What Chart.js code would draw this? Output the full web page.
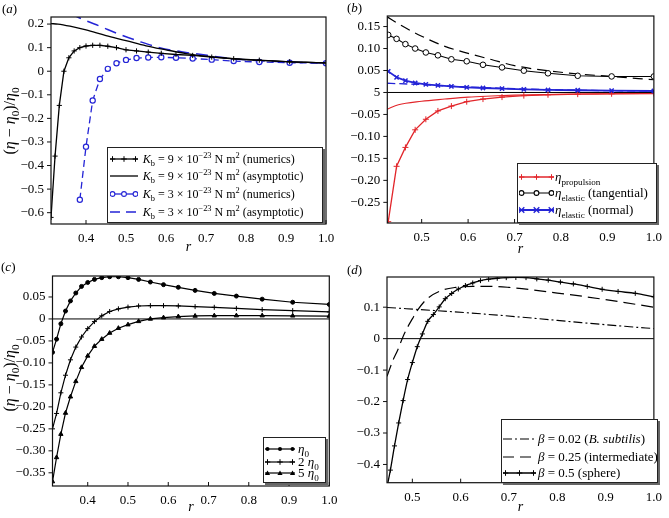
<!DOCTYPE html>
<html>
<head>
<meta charset="utf-8">
<script src="https://cdn.jsdelivr.net/npm/chart.js@4.4.0/dist/chart.umd.min.js"></script>
<style>
  body { margin: 0; background: #fff; }
  #wrap { position: relative; width: 669px; height: 518px; overflow: hidden; font-family: "Liberation Serif", "DejaVu Serif", serif; color: #000; }
  canvas { position: absolute; left: 0; top: 0; }
  .abs { position: absolute; white-space: nowrap; }
  .plabel { font-size: 13px; line-height: 14px; }
  .ytitle { font-size: 16px; line-height: 18px; transform: translate(-50%, -50%) rotate(-90deg); }
  .lbox { position: absolute; box-sizing: border-box; border: 1px solid #222; box-shadow: 2px 2px 0 #666; background: #fff; }
  .ltext { font-size: 13px; line-height: 16px; }
  .small { font-size: 12px; }
  sub, sup { font-size: 70%; line-height: 0; }
</style>
</head>
<body>
<div id="wrap">
  <canvas id="ca" width="669" height="518"></canvas>
  <canvas id="cb" width="669" height="518"></canvas>
  <canvas id="cc" width="669" height="518"></canvas>
  <canvas id="cd" width="669" height="518"></canvas>
</div>
<script>
// ---- data ----
// r values of the numerical runs (1/r = 3.2 ... 1.0)
const rGrid = [0.3125, 0.3226, 0.3333, 0.3448, 0.3571, 0.3704, 0.3846, 0.4, 0.4167, 0.4348, 0.4545, 0.4762,
  0.5, 0.5263, 0.5556, 0.5882, 0.625, 0.6667, 0.7143, 0.7692, 0.8333, 0.9091, 1.0];

// (a)
const kb9Num = [-0.62, -0.36, -0.145, 0.0, 0.057, 0.086, 0.1, 0.107, 0.11, 0.11, 0.106, 0.1,
  0.091, 0.086, 0.081, 0.076, 0.071, 0.067, 0.06, 0.053, 0.047, 0.04, 0.035];
const rAsym9 = [0.3125, 0.33, 0.36, 0.40, 0.45, 0.50, 0.55, 0.60, 0.65, 0.70, 0.75, 0.80, 0.85, 0.90, 0.95, 1.0];
const kb9Asym = [0.202, 0.2, 0.191, 0.175, 0.151, 0.13, 0.108, 0.091, 0.075, 0.064, 0.056, 0.049, 0.045, 0.041, 0.038, 0.035];
const rKb3 = [0.3846, 0.4, 0.4167, 0.4348, 0.4545, 0.4762, 0.5, 0.5263, 0.5556, 0.5882, 0.625, 0.6667,
  0.7143, 0.7692, 0.8333, 0.9091, 1.0];
const kb3Num = [-0.545, -0.32, -0.124, -0.033, 0.01, 0.034, 0.048, 0.056, 0.058, 0.059, 0.057, 0.054,
  0.049, 0.043, 0.039, 0.036, 0.034];
const rAsym3 = [0.36, 0.383, 0.40, 0.433, 0.483, 0.534, 0.584, 0.642, 0.709, 0.776, 0.851, 0.92, 1.0];
const kb3Asym = [0.245, 0.227, 0.214, 0.192, 0.157, 0.126, 0.1, 0.082, 0.066, 0.052, 0.043, 0.038, 0.035];

// (b)
const rB = [0.428, 0.446, 0.465, 0.486, 0.509, 0.535, 0.564, 0.597, 0.632, 0.673, 0.72, 0.772, 0.836, 0.909, 1.0];
const propNum = [-0.294, -0.168, -0.125, -0.085, -0.061, -0.042, -0.031, -0.021, -0.015, -0.0105, -0.0072,
  -0.0052, -0.0038, -0.003, -0.0024];
const tangNum = [0.131, 0.122, 0.11, 0.1, 0.091, 0.0845, 0.0755, 0.071, 0.063, 0.057, 0.0496, 0.0436, 0.038, 0.0365, 0.0365];
const normNum = [0.048, 0.0345, 0.027, 0.0216, 0.0186, 0.0163, 0.014, 0.0118, 0.0102, 0.0087, 0.0072, 0.0057,
  0.005, 0.004, 0.0034];
const rAsymB = [0.426, 0.45, 0.5, 0.55, 0.6, 0.65, 0.7, 0.8, 0.9, 1.0];
const propAsym = [-0.038, -0.028, -0.02, -0.015, -0.0105, -0.008, -0.006, -0.004, -0.003, -0.0022];
const tangAsym = [0.172, 0.156, 0.128, 0.105, 0.089, 0.075, 0.061, 0.046, 0.037, 0.029];
const normAsym = [0.021, 0.02, 0.018, 0.015, 0.0125, 0.0105, 0.0085, 0.0058, 0.0042, 0.0034];

// (c)
const eta1 = [-0.076, -0.046, -0.011, 0.018, 0.041, 0.059, 0.074, 0.083, 0.09, 0.094, 0.096, 0.096,
  0.094, 0.09, 0.084, 0.078, 0.072, 0.065, 0.058, 0.052, 0.045, 0.038, 0.033];
const eta2 = [-0.25, -0.215, -0.168, -0.128, -0.093, -0.064, -0.041, -0.022, -0.006, 0.007, 0.017, 0.023,
  0.027, 0.0295, 0.0303, 0.0303, 0.0296, 0.028, 0.0265, 0.024, 0.0212, 0.019, 0.016];
const eta5 = [-0.37, -0.315, -0.262, -0.214, -0.177, -0.142, -0.11, -0.084, -0.062, -0.046, -0.032, -0.021,
  -0.013, -0.0055, 0.0, 0.003, 0.0055, 0.0068, 0.0075, 0.0076, 0.0076, 0.0072, 0.0065];

// (d)
const rSphere = [0.4464, 0.4545, 0.463, 0.4717, 0.4808, 0.4902, 0.5, 0.5102, 0.5208, 0.5319, 0.5435, 0.5556,
  0.5682, 0.5814, 0.5952, 0.6098, 0.625, 0.641, 0.6579, 0.6757, 0.6944, 0.7143, 0.7353, 0.7576, 0.7813,
  0.8065, 0.8333, 0.8621, 0.8929, 0.9259, 0.9615, 1.0];
const beta05 = [-0.48, -0.418, -0.341, -0.268, -0.197, -0.13, -0.076, -0.0255, 0.015, 0.055, 0.0766, 0.101,
  0.127, 0.1436, 0.1578, 0.169, 0.177, 0.1845, 0.189, 0.192, 0.194, 0.1945, 0.194, 0.19, 0.186,
  0.18, 0.174, 0.166, 0.157, 0.15, 0.144, 0.133];
const rMid = [0.4475, 0.46, 0.47, 0.48, 0.49, 0.5, 0.51, 0.53, 0.56, 0.59, 0.625, 0.665, 0.7, 0.75, 0.8, 0.86, 0.93, 1.0];
const beta025 = [-0.12, -0.068, -0.035, 0.004, 0.036, 0.063, 0.089, 0.126, 0.153, 0.163, 0.166, 0.166, 0.163,
  0.155, 0.145, 0.133, 0.117, 0.1];
const rLow = [0.4475, 0.55, 0.65, 0.75, 0.85, 0.95, 1.0];
const beta002 = [0.099, 0.089, 0.078, 0.065, 0.051, 0.038, 0.032];

// ticks
const xTicksA = [0.4, 0.5, 0.6, 0.7, 0.8, 0.9, 1.0];
const xLabelsA = ['0.4', '0.5', '0.6', '0.7', '0.8', '0.9', '1.0'];
const xTicksB = [0.5, 0.6, 0.7, 0.8, 0.9, 1.0];
const xLabelsB = ['0.5', '0.6', '0.7', '0.8', '0.9', '1.0'];
const yTicksA = [-0.6, -0.5, -0.4, -0.3, -0.2, -0.1, 0, 0.1, 0.2];
const yLabelsA = ['\u22120.6', '\u22120.5', '\u22120.4', '\u22120.3', '\u22120.2', '\u22120.1', '0', '0.1', '0.2'];
const yTicksB = [-0.25, -0.2, -0.15, -0.1, -0.05, 0, 0.05, 0.1, 0.15];
const yLabelsB = ['\u22120.25', '\u22120.20', '\u22120.15', '\u22120.10', '\u22120.05', '5', '0.05', '0.10', '0.15'];
const yTicksC = [-0.35, -0.3, -0.25, -0.2, -0.15, -0.1, -0.05, 0, 0.05];
const yLabelsC = ['\u22120.35', '\u22120.30', '\u22120.25', '\u22120.20', '\u22120.15', '\u22120.10', '\u22120.05', '0', '0.05'];
const yTicksD = [-0.4, -0.3, -0.2, -0.1, 0, 0.1];
const yLabelsD = ['\u22120.4', '\u22120.3', '\u22120.2', '\u22120.1', '0', '0.1'];

// ---- drawing ----
const BLUE = '#2424d6';
const RED = '#e2262b';
const tickFont = { family: '"Liberation Serif", "DejaVu Serif", serif', size: 13 };

function pts(xs, ys) {
  return xs.map((x, i) => ({ x: x, y: ys[i] }));
}

// box round the plot, zero line, tick marks
const frame = {
  id: 'frame',
  beforeDatasetsDraw(chart, args, opts) {
    if (!opts.zero) return;
    const { ctx, chartArea: a, scales: { y } } = chart;
    const y0 = y.getPixelForValue(0);
    ctx.save();
    ctx.strokeStyle = '#000';
    ctx.lineWidth = 1;
    ctx.beginPath();
    ctx.moveTo(a.left, y0);
    ctx.lineTo(a.right, y0);
    ctx.stroke();
    ctx.restore();
  },
  afterDatasetsDraw(chart) {
    const { ctx, chartArea: a, scales: { x, y } } = chart;
    ctx.save();
    ctx.strokeStyle = '#111';
    ctx.lineWidth = 1.2;
    ctx.strokeRect(a.left, a.top, a.right - a.left, a.bottom - a.top);
    ctx.lineWidth = 1;
    ctx.beginPath();
    x.ticks.forEach(t => {
      const px = x.getPixelForValue(t.value);
      ctx.moveTo(px, a.bottom);
      ctx.lineTo(px, a.bottom - 4);
    });
    y.ticks.forEach(t => {
      const py = y.getPixelForValue(t.value);
      ctx.moveTo(a.left, py);
      ctx.lineTo(a.left - 4, py);
    });
    ctx.stroke();
    ctx.restore();
  }
};

function makePanel(p) {
  const [L, T, R, B] = p.area;
  return new Chart(document.getElementById(p.id), {
    type: 'line',
    data: { datasets: p.datasets },
    plugins: [frame],
    options: {
      responsive: false,
      animation: false,
      events: [],
      layout: { padding: { left: p.padL, top: T, right: 669 - R, bottom: p.padB } },
      elements: { point: { radius: 0 }, line: { tension: 0 } },
      plugins: { legend: { display: false }, tooltip: { enabled: false }, frame: { zero: p.zero } },
      scales: {
        x: {
          type: 'linear', min: p.xMin, max: p.xMax,
          afterFit: s => { s.height = 518 - p.padB - B; },
          afterBuildTicks: s => { s.ticks = p.xTicks.map(v => ({ value: v })); },
          ticks: { autoSkip: false, maxRotation: 0, padding: 7, color: '#000', font: tickFont,
            callback: (v, i) => p.xLabels[i] },
          grid: { display: false, drawTicks: false },
          border: { display: false },
          title: { display: true, text: 'r', color: '#000',
            font: { family: tickFont.family, size: 14, style: 'italic' }, padding: { top: 0, bottom: 2 } }
        },
        y: {
          type: 'linear', min: p.yMin, max: p.yMax,
          afterFit: s => { s.width = L - p.padL; },
          afterBuildTicks: s => { s.ticks = p.yTicks.map(v => ({ value: v })); },
          ticks: { autoSkip: false, padding: 7, color: '#000', font: tickFont,
            callback: (v, i) => p.yLabels[i] },
          grid: { display: false, drawTicks: false },
          border: { display: false }
        }
      }
    }
  });
}

makePanel({
  id: 'ca', area: [51, 17, 326, 224], padL: 0, padB: 260, zero: false,
  xMin: 0.3125, xMax: 1.0, yMin: -0.648, yMax: 0.23,
  xTicks: xTicksA, xLabels: xLabelsA, yTicks: yTicksA, yLabels: yLabelsA,
  datasets: [
    { data: pts(rGrid, kb9Num), borderColor: '#000', borderWidth: 1.3, pointStyle: 'cross', pointRadius: 2.6,
      pointBorderColor: '#000', pointBorderWidth: 1 },
    { data: pts(rAsym9, kb9Asym), borderColor: '#000', borderWidth: 1.3, cubicInterpolationMode: 'monotone' },
    { data: pts(rKb3, kb3Num), borderColor: BLUE, borderWidth: 1.3, borderDash: [7, 4], pointStyle: 'circle',
      pointRadius: 2.6, pointBorderColor: BLUE, pointBackgroundColor: '#fff', pointBorderWidth: 1.2 },
    { data: pts(rAsym3, kb3Asym), borderColor: BLUE, borderWidth: 1.5, borderDash: [12, 7], cubicInterpolationMode: 'monotone' }
  ]
});

makePanel({
  id: 'cb', area: [387.3, 16, 660, 223], padL: 335, padB: 258, zero: true,
  xMin: 0.426, xMax: 1.0, yMin: -0.297, yMax: 0.174,
  xTicks: xTicksB, xLabels: xLabelsB, yTicks: yTicksB, yLabels: yLabelsB,
  datasets: [
    { data: pts(rB, normNum), borderColor: BLUE, borderWidth: 1.8, pointStyle: 'crossRot', pointRadius: 3,
      pointBorderColor: BLUE, pointBorderWidth: 1.5 },
    { data: pts(rAsymB, normAsym), borderColor: BLUE, borderWidth: 1.3, borderDash: [8, 4], cubicInterpolationMode: 'monotone' },
    { data: pts(rB, tangNum), borderColor: '#000', borderWidth: 1.1, pointStyle: 'circle', pointRadius: 2.8,
      pointBorderColor: '#000', pointBackgroundColor: '#fff', pointBorderWidth: 1 },
    { data: pts(rAsymB, tangAsym), borderColor: '#000', borderWidth: 1.2, borderDash: [10, 6], cubicInterpolationMode: 'monotone' },
    { data: pts(rB, propNum), borderColor: RED, borderWidth: 1.3, pointStyle: 'cross', pointRadius: 3,
      pointBorderColor: RED, pointBorderWidth: 1 },
    { data: pts(rAsymB, propAsym), borderColor: RED, borderWidth: 1.1, cubicInterpolationMode: 'monotone' }
  ]
});

makePanel({
  id: 'cc', area: [52.5, 276, 329.3, 486], padL: 0, padB: 0, zero: true,
  xMin: 0.3125, xMax: 1.0, yMin: -0.38, yMax: 0.0977,
  xTicks: xTicksA, xLabels: xLabelsA, yTicks: yTicksC, yLabels: yLabelsC,
  datasets: [
    { data: pts(rGrid, eta1), borderColor: '#000', borderWidth: 1.2, pointStyle: 'circle', pointRadius: 2,
      pointBorderColor: '#000', pointBackgroundColor: '#000', pointBorderWidth: 1 },
    { data: pts(rGrid, eta2), borderColor: '#000', borderWidth: 1.2, pointStyle: 'cross', pointRadius: 2.5,
      pointBorderColor: '#000', pointBorderWidth: 1 },
    { data: pts(rGrid, eta5), borderColor: '#000', borderWidth: 1.2, pointStyle: 'triangle', pointRadius: 2.5,
      pointBorderColor: '#000', pointBackgroundColor: '#000', pointBorderWidth: 1 }
  ]
});

makePanel({
  id: 'cd', area: [387, 277, 661, 482.7], padL: 335, padB: 0, zero: true,
  xMin: 0.4475, xMax: 1.0, yMin: -0.458, yMax: 0.196,
  xTicks: xTicksB, xLabels: xLabelsB, yTicks: yTicksD, yLabels: yLabelsD,
  datasets: [
    { data: pts(rSphere, beta05), borderColor: '#000', borderWidth: 1.3, pointStyle: 'cross', pointRadius: 2.5,
      pointBorderColor: '#000', pointBorderWidth: 1, cubicInterpolationMode: 'monotone' },
    { data: pts(rMid, beta025), borderColor: '#000', borderWidth: 1.2, borderDash: [12, 6], cubicInterpolationMode: 'monotone' },
    { data: pts(rLow, beta002), borderColor: '#000', borderWidth: 1.1, borderDash: [9, 3, 2, 3], cubicInterpolationMode: 'monotone' }
  ]
});

// ---- text overlays: panel letters, y titles, legends ----
const wrap = document.getElementById('wrap');
function put(cls, left, top, html) {
  const d = document.createElement('div');
  d.className = 'abs ' + cls;
  d.style.left = left + 'px';
  d.style.top = top + 'px';
  d.innerHTML = html;
  wrap.appendChild(d);
  return d;
}

put('plabel', 2, 2, '(<i>a</i>)');
put('plabel', 347, 1, '(<i>b</i>)');
put('plabel', 1, 260, '(<i>c</i>)');
put('plabel', 347, 263, '(<i>d</i>)');

const yTitle = '(<i>\u03b7</i> \u2212 <i>\u03b7</i><sub>0</sub>)/<i>\u03b7</i><sub>0</sub>';
put('ytitle', 10, 120.5, yTitle);
put('ytitle', 10, 378, yTitle);

function sample(w, o) {
  let s = `<svg width="${w}" height="10" viewBox="0 0 ${w} 10" style="display:block">`;
  s += `<line x1="0" y1="5" x2="${w}" y2="5" stroke="${o.c}" stroke-width="${o.lw}"` +
    (o.dash ? ` stroke-dasharray="${o.dash}"` : '') + '/>';
  if (o.m) {
    [2.5, w / 2, w - 2.5].forEach(x => {
      const r = 2.8;
      if (o.m === 'cross') s += `<path d="M${x - r} 5H${x + r}M${x} ${5 - r}V${5 + r}" stroke="${o.c}" stroke-width="1"/>`;
      if (o.m === 'crossRot') s += `<path d="M${x - r} ${5 - r}L${x + r} ${5 + r}M${x - r} ${5 + r}L${x + r} ${5 - r}" stroke="${o.c}" stroke-width="1.4"/>`;
      if (o.m === 'circle') s += `<circle cx="${x}" cy="5" r="2.4" fill="#fff" stroke="${o.c}" stroke-width="1.1"/>`;
      if (o.m === 'dot') s += `<circle cx="${x}" cy="5" r="2" fill="${o.c}"/>`;
      if (o.m === 'tri') s += `<path d="M${x} 2.5L${x + 2.6} 7L${x - 2.6} 7Z" fill="${o.c}"/>`;
    });
  }
  return s + '</svg>';
}

function legend(box, sx, sw, tx, rows, cls) {
  const b = document.createElement('div');
  b.className = 'lbox';
  Object.assign(b.style, { left: box[0] + 'px', top: box[1] + 'px', width: box[2] + 'px', height: box[3] + 'px' });
  wrap.appendChild(b);
  rows.forEach(r => {
    put('', sx, r.y - 5, sample(sw, r.s));
    put('ltext ' + (cls || ''), tx, r.y - 8, r.t);
  });
}

const kb = '<i>K</i><sub>b</sub>';
legend([107, 147, 216, 76], 110, 28, 142.7, [
  { y: 159.3, s: { c: '#000', lw: 1.3, m: 'cross' }, t: kb + ' = 9 \u00d7 10<sup>\u221223</sup> N m<sup>2</sup> (numerics)' },
  { y: 176, s: { c: '#000', lw: 1.3 }, t: kb + ' = 9 \u00d7 10<sup>\u221223</sup> N m<sup>2</sup> (asymptotic)' },
  { y: 194, s: { c: BLUE, lw: 1.3, m: 'circle' }, t: kb + ' = 3 \u00d7 10<sup>\u221223</sup> N m<sup>2</sup> (numerics)' },
  { y: 211.7, s: { c: BLUE, lw: 1.5, dash: '10 6' }, t: kb + ' = 3 \u00d7 10<sup>\u221223</sup> N m<sup>2</sup> (asymptotic)' }
], 'small');

legend([516.7, 163.3, 140, 59.4], 518.5, 35, 555, [
  { y: 176.7, s: { c: RED, lw: 1.3, m: 'cross' }, t: '<i>\u03b7</i><sub>propulsion</sub>' },
  { y: 193.3, s: { c: '#000', lw: 1.1, m: 'circle' }, t: '<i>\u03b7</i><sub>elastic</sub> (tangential)' },
  { y: 210, s: { c: BLUE, lw: 1.8, m: 'crossRot' }, t: '<i>\u03b7</i><sub>elastic</sub> (normal)' }
]);

legend([263.3, 436.7, 62.7, 46], 265, 30, 298, [
  { y: 449.3, s: { c: '#000', lw: 1.2, m: 'dot' }, t: '<i>\u03b7</i><sub>0</sub>' },
  { y: 461.7, s: { c: '#000', lw: 1.2, m: 'cross' }, t: '2 <i>\u03b7</i><sub>0</sub>' },
  { y: 473.3, s: { c: '#000', lw: 1.2, m: 'tri' }, t: '5 <i>\u03b7</i><sub>0</sub>' }
]);

legend([500.7, 419, 157, 63.7], 502.5, 33, 538, [
  { y: 439.3, s: { c: '#000', lw: 1.1, dash: '9 3 2 3' }, t: '<i>\u03b2</i> = 0.02 (<i>B. subtilis</i>)' },
  { y: 456.7, s: { c: '#000', lw: 1.2, dash: '11 6' }, t: '<i>\u03b2</i> = 0.25 (intermediate)' },
  { y: 473.3, s: { c: '#000', lw: 1.3, m: 'cross' }, t: '<i>\u03b2</i> = 0.5 (sphere)' }
]);
</script>
</body>
</html>
